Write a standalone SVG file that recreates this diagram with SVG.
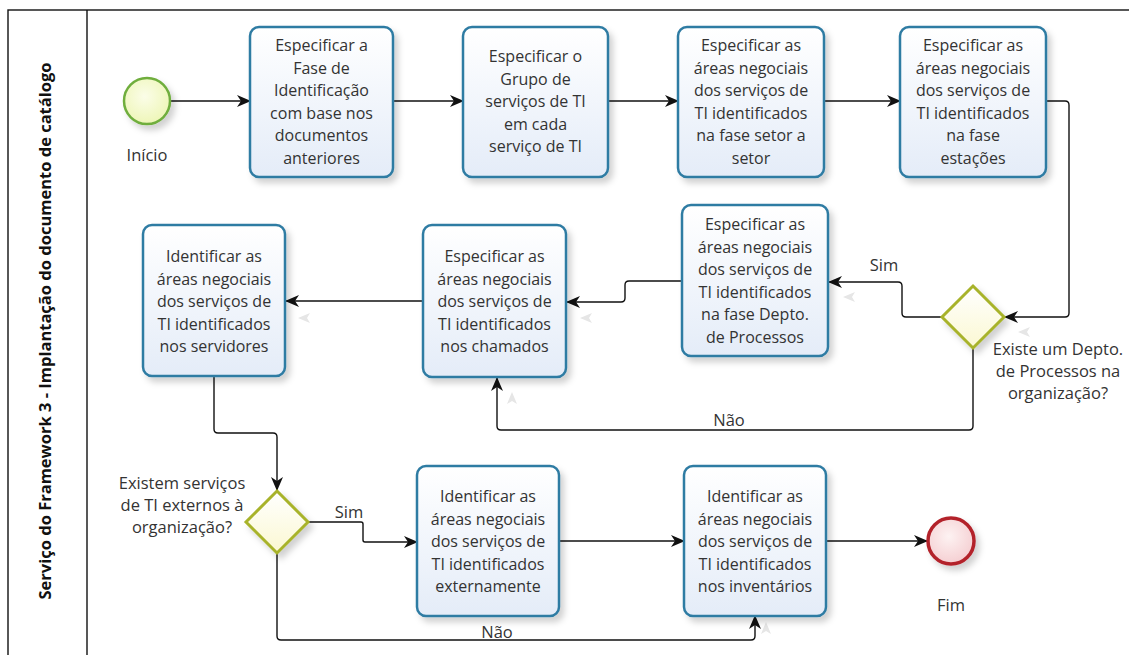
<svg xmlns="http://www.w3.org/2000/svg" width="1129" height="655" viewBox="0 0 1129 655">
<defs>
<style>
.task{fill:url(#tg);stroke:#2f7ba3;stroke-width:2.5}
.t{font-family:"Open Sans","Noto Sans","Liberation Sans",sans-serif;font-size:16px;fill:#333;text-anchor:middle}
.lbl{font-family:"Open Sans","Noto Sans","Liberation Sans",sans-serif;font-size:16.5px;fill:#333;text-anchor:middle}
.c{fill:none;stroke:#111;stroke-width:1.4}
.gw{fill:url(#gg);stroke:#a8b32c;stroke-width:3}
.ghost{fill:#e6e6e6}
</style>
<linearGradient id="tg" x1="0" y1="0" x2="0" y2="1"><stop offset="0" stop-color="#ffffff"/><stop offset="1" stop-color="#e4ecf8"/></linearGradient>
<linearGradient id="gg" x1="0" y1="0" x2="0" y2="1"><stop offset="0" stop-color="#ffffff"/><stop offset="1" stop-color="#fbf8d2"/></linearGradient>
<radialGradient id="sg" cx="0.45" cy="0.4" r="0.6"><stop offset="0" stop-color="#fbfde8"/><stop offset="1" stop-color="#eef6b8"/></radialGradient>
<radialGradient id="eg" cx="0.45" cy="0.4" r="0.6"><stop offset="0" stop-color="#fdf2f2"/><stop offset="1" stop-color="#f5cfd2"/></radialGradient>
<filter id="sh" x="-20%" y="-20%" width="150%" height="150%"><feDropShadow dx="4" dy="5" stdDeviation="3" flood-color="#000" flood-opacity="0.18"/></filter>
<marker id="ar" viewBox="0 0 14 12" refX="13" refY="6" markerWidth="14" markerHeight="12" markerUnits="userSpaceOnUse" orient="auto">
<path d="M0,0 L14,6 L0,12 L4,6 Z" fill="#111"/>
</marker>
</defs>
<rect x="0" y="0" width="1129" height="655" fill="#fff"/>
<g id="pool">
<rect x="8" y="10" width="1135" height="660" fill="none" stroke="#111" stroke-width="1.4"/>
<line x1="87" y1="10" x2="87" y2="655" stroke="#111" stroke-width="1.4"/>
<text transform="translate(51,331) rotate(-90)" font-family="'Open Sans','Noto Sans','Liberation Sans',sans-serif" font-size="16.5" font-weight="bold" fill="#111" text-anchor="middle">Serviço do Framework 3 - Implantação do documento de catálogo</text>
</g>
<g id="ghosts">
<path class="ghost" d="M843,297 L855,292 L852,297 L855,302 Z"/>
<path class="ghost" d="M580,318 L592,313 L589,318 L592,323 Z"/>
<path class="ghost" d="M298,318 L310,313 L307,318 L310,323 Z"/>
<path class="ghost" d="M512,392 L517,404 L512,401 L507,404 Z"/>
<path class="ghost" d="M766,622 L771,634 L766,631 L761,634 Z"/>
<path class="ghost" d="M1018,332 L1030,327 L1027,332 L1030,337 Z"/>
</g>
<g id="connectors">
<path class="c" marker-end="url(#ar)" d="M171,101 H250"/>
<path class="c" marker-end="url(#ar)" d="M393,101 H463"/>
<path class="c" marker-end="url(#ar)" d="M608,101 H678"/>
<path class="c" marker-end="url(#ar)" d="M824,101 H900"/>
<path class="c" marker-end="url(#ar)" d="M1046,101 H1065 Q1069,101 1069,105 V313 Q1069,317 1065,317 H1005"/>
<path class="c" marker-end="url(#ar)" d="M942,317 H906 Q902,317 902,313 V286 Q902,282 898,282 H829"/>
<path class="c" marker-end="url(#ar)" d="M682,281 H629 Q625,281 625,285 V298 Q625,302 621,302 H567"/>
<path class="c" marker-end="url(#ar)" d="M973,348 V426 Q973,430 969,430 H501 Q497,430 497,426 V378"/>
<path class="c" marker-end="url(#ar)" d="M423,301 H286"/>
<path class="c" marker-end="url(#ar)" d="M214,377 V429 Q214,433 218,433 H273 Q277,433 277,437 V490"/>
<path class="c" marker-end="url(#ar)" d="M308,522 H361 Q363,522 363,524 V540 Q363,542 365,542 H417"/>
<path class="c" marker-end="url(#ar)" d="M559,541 H684"/>
<path class="c" marker-end="url(#ar)" d="M826,541 H927"/>
<path class="c" marker-end="url(#ar)" d="M277,553 V636 Q277,640 281,640 H751 Q755,640 755,636 V616"/>
<text class="lbl" x="884" y="271">Sim</text>
<text class="lbl" x="729" y="426">Não</text>
<text class="lbl" x="349" y="518">Sim</text>
<text class="lbl" x="497" y="638">Não</text>
</g>
<g id="start">
<circle cx="147" cy="101" r="23" fill="url(#sg)" stroke="#6fae3e" stroke-width="2.5" filter="url(#sh)"/>
<text class="lbl" x="147" y="161">Início</text>
</g>
<g id="task1">
<rect class="task" x="250" y="27" width="143" height="150" rx="9" filter="url(#sh)"/>
<text class="t"><tspan x="321.5" y="51">Especificar a</tspan><tspan x="321.5" y="73.5">Fase de</tspan><tspan x="321.5" y="96">Identificação</tspan><tspan x="321.5" y="118.5">com base nos</tspan><tspan x="321.5" y="141">documentos</tspan><tspan x="321.5" y="163.5">anteriores</tspan></text>
</g>
<g id="task2">
<rect class="task" x="463" y="27" width="145" height="150" rx="9" filter="url(#sh)"/>
<text class="t"><tspan x="535.5" y="62">Especificar o</tspan><tspan x="535.5" y="84.5">Grupo de</tspan><tspan x="535.5" y="107">serviços de TI</tspan><tspan x="535.5" y="129.5">em cada</tspan><tspan x="535.5" y="152">serviço de TI</tspan></text>
</g>
<g id="task3">
<rect class="task" x="678" y="27" width="146" height="150" rx="9" filter="url(#sh)"/>
<text class="t"><tspan x="751" y="51">Especificar as</tspan><tspan x="751" y="73.5">áreas negociais</tspan><tspan x="751" y="96">dos serviços de</tspan><tspan x="751" y="118.5">TI identificados</tspan><tspan x="751" y="141">na fase setor a</tspan><tspan x="751" y="163.5">setor</tspan></text>
</g>
<g id="task4">
<rect class="task" x="900" y="27" width="146" height="150" rx="9" filter="url(#sh)"/>
<text class="t"><tspan x="973" y="51">Especificar as</tspan><tspan x="973" y="73.5">áreas negociais</tspan><tspan x="973" y="96">dos serviços de</tspan><tspan x="973" y="118.5">TI identificados</tspan><tspan x="973" y="141">na fase</tspan><tspan x="973" y="163.5">estações</tspan></text>
</g>
<g id="gateway1">
<path class="gw" d="M973,286 L1004,317 L973,348 L942,317 Z" filter="url(#sh)"/>
<text class="lbl"><tspan x="1058" y="355">Existe um Depto.</tspan><tspan x="1058" y="377">de Processos na</tspan><tspan x="1058" y="399">organização?</tspan></text>
</g>
<g id="task5">
<rect class="task" x="682" y="205" width="146" height="151" rx="9" filter="url(#sh)"/>
<text class="t"><tspan x="755" y="230">Especificar as</tspan><tspan x="755" y="252.5">áreas negociais</tspan><tspan x="755" y="275">dos serviços de</tspan><tspan x="755" y="297.5">TI identificados</tspan><tspan x="755" y="320">na fase Depto.</tspan><tspan x="755" y="342.5">de Processos</tspan></text>
</g>
<g id="task6">
<rect class="task" x="423" y="225" width="143" height="152" rx="9" filter="url(#sh)"/>
<text class="t"><tspan x="494.5" y="262">Especificar as</tspan><tspan x="494.5" y="284.5">áreas negociais</tspan><tspan x="494.5" y="307">dos serviços de</tspan><tspan x="494.5" y="329.5">TI identificados</tspan><tspan x="494.5" y="352">nos chamados</tspan></text>
</g>
<g id="task7">
<rect class="task" x="143" y="225" width="142" height="151" rx="9" filter="url(#sh)"/>
<text class="t"><tspan x="214" y="262">Identificar as</tspan><tspan x="214" y="284.5">áreas negociais</tspan><tspan x="214" y="307">dos serviços de</tspan><tspan x="214" y="329.5">TI identificados</tspan><tspan x="214" y="352">nos servidores</tspan></text>
</g>
<g id="gateway2">
<path class="gw" d="M277,491 L308,522 L277,553 L246,522 Z" filter="url(#sh)"/>
<text class="lbl"><tspan x="182" y="489">Existem serviços</tspan><tspan x="182" y="511">de TI externos à</tspan><tspan x="182" y="533">organização?</tspan></text>
</g>
<g id="task8">
<rect class="task" x="417" y="466" width="142" height="150" rx="9" filter="url(#sh)"/>
<text class="t"><tspan x="488" y="502">Identificar as</tspan><tspan x="488" y="524.5">áreas negociais</tspan><tspan x="488" y="547">dos serviços de</tspan><tspan x="488" y="569.5">TI identificados</tspan><tspan x="488" y="592">externamente</tspan></text>
</g>
<g id="task9">
<rect class="task" x="684" y="466" width="142" height="150" rx="9" filter="url(#sh)"/>
<text class="t"><tspan x="755" y="502">Identificar as</tspan><tspan x="755" y="524.5">áreas negociais</tspan><tspan x="755" y="547">dos serviços de</tspan><tspan x="755" y="569.5">TI identificados</tspan><tspan x="755" y="592">nos inventários</tspan></text>
</g>
<g id="end">
<circle cx="951" cy="541" r="23" fill="url(#eg)" stroke="#b3242c" stroke-width="3.5" filter="url(#sh)"/>
<text class="lbl" x="951" y="611">Fim</text>
</g>
</svg>
